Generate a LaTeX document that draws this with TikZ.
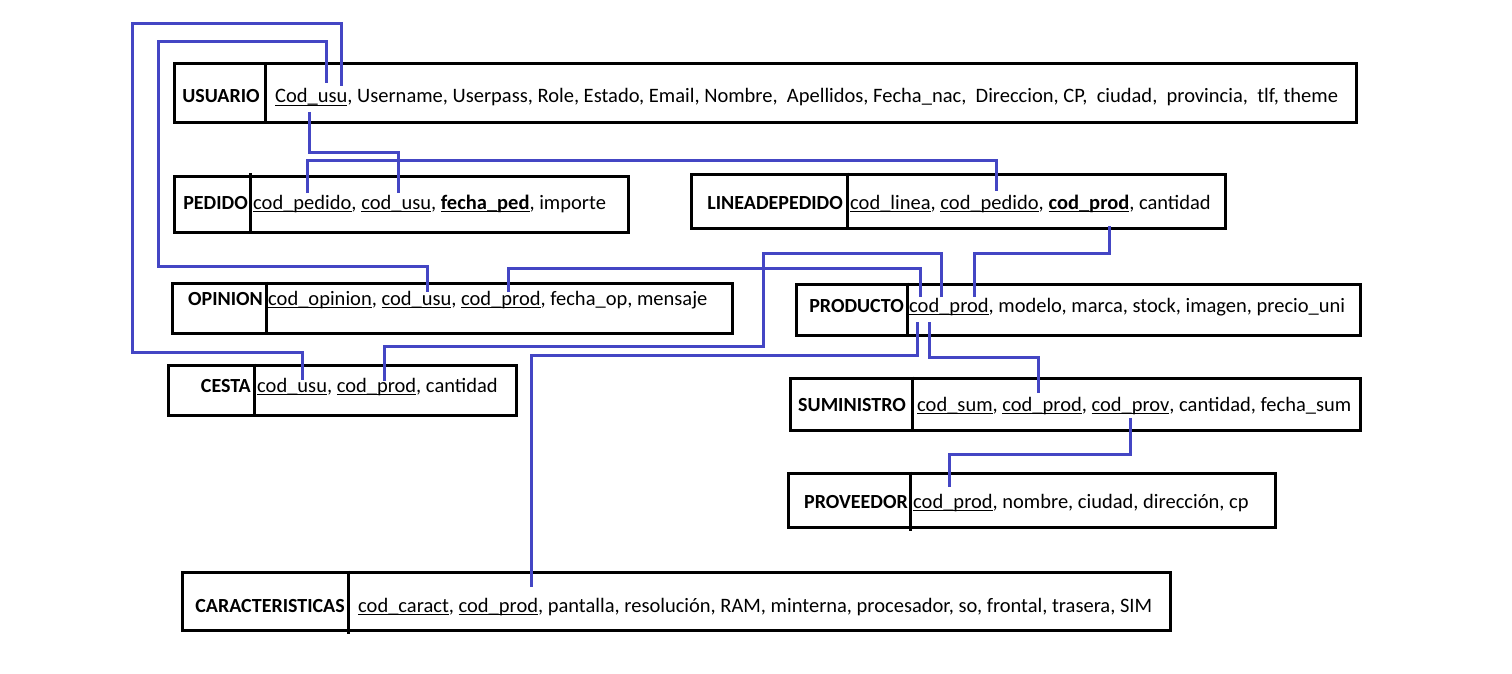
\documentclass[tikz,border=0pt]{standalone}
\usepackage{fontspec}
\setmainfont{Carlito}
\definecolor{lnk}{RGB}{68,70,196}
\newcommand\fkey[1]{\setbox0\hbox{#1}\rlap{\vrule height -1.7pt depth 3.0pt width \wd0}\box0}
\begin{document}
\begin{tikzpicture}[x=1pt,y=-1pt,
  tbox/.style={draw=black, line width=3pt, inner sep=0pt},
  tdiv/.style={draw=black, line width=3pt},
  tlbl/.style={font=\fontsize{20}{24}\selectfont\bfseries, inner sep=0pt, anchor=base east},
  tfld/.style={font=\fontsize{20.5}{24}\selectfont, inner sep=0pt, anchor=base west},
  link/.style={draw=lnk, line width=3pt}]
\useasboundingbox[fill=white] (0,0) rectangle (1512,674);

% USUARIO
\node[tbox, minimum width=1182pt, minimum height=59pt] (usuario) at (765,93.5) {};
\draw[tdiv] (usuario.north -| 265,0) -- (usuario.south -| 265,0);
\node[tlbl, anchor=base] (usuarioL) at (221,103) {USUARIO};
\node[tfld] (usuarioF) at (275,103) {\fkey{Cod\_usu}, Username, Userpass, Role, Estado, Email, Nombre,\ \ Apellidos, Fecha\_nac,\ \ Direccion, CP,\ \ ciudad,\ \ provincia,\ \ tlf, theme};

% PEDIDO
\node[tbox, minimum width=454pt, minimum height=56pt] (pedido) at (401,204) {};
\draw[tdiv] (250,173) -- (pedido.south -| 250,0);
\node[tlbl] (pedidoL) at (248,209) {PEDIDO};
\node[tfld] (pedidoF) at (253,209) {\fkey{cod\_pedido}, \fkey{cod\_usu}, \fkey{\bfseries fecha\_ped}, importe};

% LINEADEPEDIDO
\node[tbox, minimum width=534pt, minimum height=54pt] (linea) at (958,201) {};
\draw[tdiv] (linea.north -| 847,0) -- (linea.south -| 847,0);
\node[tlbl] (lineaL) at (843,209) {LINEADEPEDIDO};
\node[tfld] (lineaF) at (850,209) {\fkey{cod\_linea}, \fkey{cod\_pedido}, \fkey{\bfseries cod\_prod}, cantidad};

% OPINION
\node[tbox, minimum width=560pt, minimum height=50pt] (opinion) at (452,308) {};
\draw[tdiv] (opinion.north -| 266,0) -- (opinion.south -| 266,0);
\node[tlbl] (opinionL) at (263,305) {OPINION};
\node[tfld] (opinionF) at (268,305) {\fkey{cod\_opinion}, \fkey{cod\_usu}, \fkey{cod\_prod}, fecha\_op, mensaje};

% CESTA
\node[tbox, minimum width=348pt, minimum height=50pt] (cesta) at (342,390) {};
\draw[tdiv] (cesta.north -| 254,0) -- (cesta.south -| 254,0);
\node[tlbl] (cestaL) at (251,392) {CESTA};
\node[tfld] (cestaF) at (257,392) {\fkey{cod\_usu}, \fkey{cod\_prod}, cantidad};

% PRODUCTO
\node[tbox, minimum width=564pt, minimum height=51pt] (producto) at (1078,309.5) {};
\draw[tdiv] (producto.north -| 907,0) -- (producto.south -| 907,0);
\node[tlbl] (productoL) at (904,312) {PRODUCTO};
\node[tfld] (productoF) at (909,312) {\fkey{cod\_prod}, modelo, marca, stock, imagen, precio\_uni};

% SUMINISTRO
\node[tbox, minimum width=570pt, minimum height=52pt] (suministro) at (1075,404) {};
\draw[tdiv] (suministro.north -| 912,0) -- (suministro.south -| 912,0);
\node[tlbl] (suministroL) at (906,411) {SUMINISTRO};
\node[tfld] (suministroF) at (917,411) {\fkey{cod\_sum}, \fkey{cod\_prod}, \fkey{cod\_prov}, cantidad, fecha\_sum};

% PROVEEDOR
\node[tbox, minimum width=487pt, minimum height=54pt] (proveedor) at (1031.5,500) {};
\draw[tdiv] (proveedor.north -| 910,0) -- (910,531);
\node[tlbl] (proveedorL) at (908,508) {PROVEEDOR};
\node[tfld] (proveedorF) at (913,508) {\fkey{cod\_prod}, nombre, ciudad, dirección, cp};

% CARACTERISTICAS
\node[tbox, minimum width=988pt, minimum height=58pt] (caract) at (676,601) {};
\draw[tdiv] (caract.north -| 348,0) -- (348,634);
\node[tlbl] (caractL) at (345,612) {CARACTERISTICAS};
\node[tfld] (caractF) at (358,612) {\fkey{cod\_caract}, \fkey{cod\_prod}, pantalla, resolución, RAM, minterna, procesador, so, frontal, trasera, SIM};

% connector end points
\coordinate (uA) at (341,86);
\coordinate (uB) at (326,83);
\coordinate (uC) at (309,112);
\coordinate (pA) at (307,193);
\coordinate (pB) at (398,193);
\coordinate (lA) at (996,191);
\coordinate (lB) at (1109,226);
\coordinate (oA) at (427,292);
\coordinate (oB) at (508,292);
\coordinate (cA) at (302,380);
\coordinate (cB) at (384,381);
\coordinate (prA) at (920,297);
\coordinate (prB) at (941,297);
\coordinate (prC) at (974,297);
\coordinate (prD) at (917,322);
\coordinate (prE) at (929,322);
\coordinate (sA) at (1038,393);
\coordinate (sB) at (1130,418);
\coordinate (vA) at (949,487);
\coordinate (kA) at (531,587);

% connectors
\draw[link] (uA) -- (341,24) -- (132,24) -- (132,352) -| (cA);
\draw[link] (uB) -- (326,42) -- (158,42) -- (158,266) -| (oA);
\draw[link] (uC) -- (309,152) -| (pB);
\draw[link] (pA) -- (307,160) -| (lA);
\draw[link] (lB) -- (1109,253) -| (prC);
\draw[link] (oB) -- (508,268) -| (prA);
\draw[link] (prB) -- (941,253) -| (763,346) -| (cB);
\draw[link] (prD) -- (917,355) -| (kA);
\draw[link] (prE) -- (929,357) -| (sA);
\draw[link] (sB) -- (1130,454) -| (vA);
\end{tikzpicture}
\end{document}
